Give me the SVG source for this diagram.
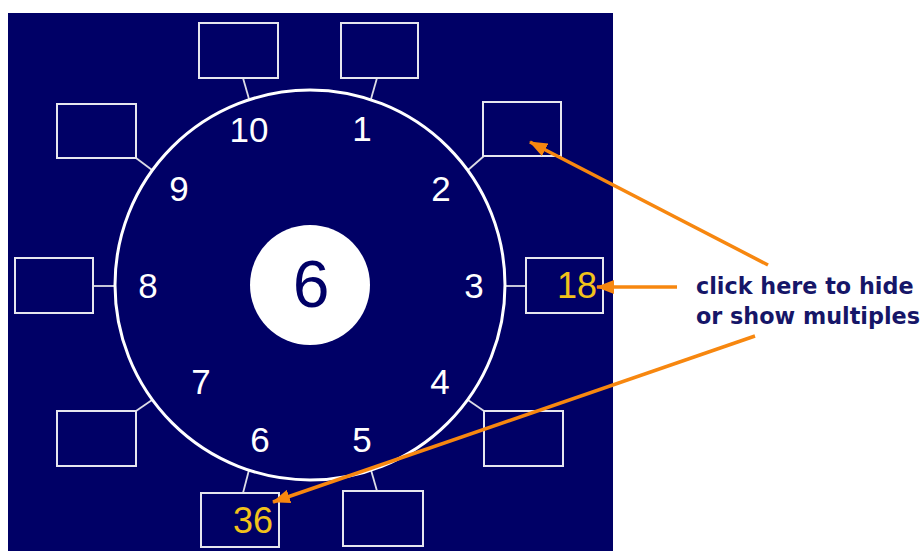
<svg xmlns="http://www.w3.org/2000/svg" width="923" height="551" viewBox="0 0 923 551">
<defs>
<style>
.bg{fill:#000066}
.box{fill:none;stroke:#e6e6ee;stroke-width:2}
.lnk{stroke:#dcdce6;stroke-width:1.8;fill:none}
.num{font-family:"Liberation Sans",Arial,sans-serif;font-size:35px;fill:#ffffff;text-anchor:middle}
.mul{font-family:"Liberation Sans",Arial,sans-serif;font-size:36px;fill:#f2c21a;text-anchor:end}
.note{font-family:"DejaVu Sans",Verdana,sans-serif;font-weight:bold;font-size:22.3px;fill:#161668}
.arr{stroke:#f7870f;stroke-width:3.5;fill:none;marker-end:url(#ah)}
</style>
<marker id="ah" viewBox="0 0 18 14" refX="17" refY="7" markerWidth="18" markerHeight="14" markerUnits="userSpaceOnUse" orient="auto">
<path d="M0,0 L18,7 L0,14 Z" fill="#f7870f"/>
</marker>
</defs>
<rect class="bg" x="8" y="13" width="605" height="538"/>
<g id="connectors">
<line class="lnk" x1="243" y1="78" x2="249" y2="99"/>
<line class="lnk" x1="377" y1="78" x2="371" y2="99"/>
<line class="lnk" x1="484" y1="156" x2="468" y2="170"/>
<line class="lnk" x1="505" y1="286" x2="526" y2="286"/>
<line class="lnk" x1="484" y1="411" x2="468" y2="400"/>
<line class="lnk" x1="377" y1="491" x2="371" y2="470"/>
<line class="lnk" x1="243" y1="493" x2="249" y2="470"/>
<line class="lnk" x1="136" y1="411" x2="152" y2="400"/>
<line class="lnk" x1="93" y1="286" x2="115" y2="286"/>
<line class="lnk" x1="136" y1="158" x2="152" y2="170"/>
</g>
<g id="ring">
<circle cx="310" cy="285" r="195" fill="none" stroke="#ffffff" stroke-width="3"/>
</g>
<g id="center">
<circle cx="310" cy="285" r="60" fill="#ffffff"/>
<text x="311" y="307" font-family="Liberation Sans, Arial, sans-serif" font-size="66" fill="#000066" text-anchor="middle">6</text>
</g>
<g id="labels">
<text class="num" x="362" y="141">1</text>
<text class="num" x="441" y="201">2</text>
<text class="num" x="474" y="298">3</text>
<text class="num" x="440" y="394">4</text>
<text class="num" x="362" y="452">5</text>
<text class="num" x="260" y="452">6</text>
<text class="num" x="201" y="394">7</text>
<text class="num" x="148" y="298">8</text>
<text class="num" x="179" y="201">9</text>
<text class="num" x="249" y="142">10</text>
</g>
<g id="box1"><rect class="box" x="341" y="23" width="77" height="55"/></g>
<g id="box2"><rect class="box" x="483" y="102" width="78" height="54"/></g>
<g id="box3"><rect class="box" x="526" y="258" width="77" height="55"/><text class="mul" x="597" y="298">18</text></g>
<g id="box4"><rect class="box" x="484" y="411" width="79" height="55"/></g>
<g id="box5"><rect class="box" x="343" y="491" width="80" height="55"/></g>
<g id="box6"><rect class="box" x="201" y="493" width="78" height="54"/><text class="mul" x="273" y="533">36</text></g>
<g id="box7"><rect class="box" x="57" y="411" width="79" height="55"/></g>
<g id="box8"><rect class="box" x="15" y="258" width="78" height="55"/></g>
<g id="box9"><rect class="box" x="57" y="104" width="79" height="54"/></g>
<g id="box10"><rect class="box" x="199" y="23" width="79" height="55"/></g>
<g id="note">
<text class="note" x="696" y="294">click here to hide</text>
<text class="note" x="696" y="324">or show multiples</text>
</g>
<g id="arrows">
<line class="arr" x1="768" y1="265" x2="530" y2="142"/>
<line class="arr" x1="677" y1="287" x2="597" y2="287"/>
<line class="arr" x1="755" y1="336" x2="273" y2="502"/>
</g>
</svg>
